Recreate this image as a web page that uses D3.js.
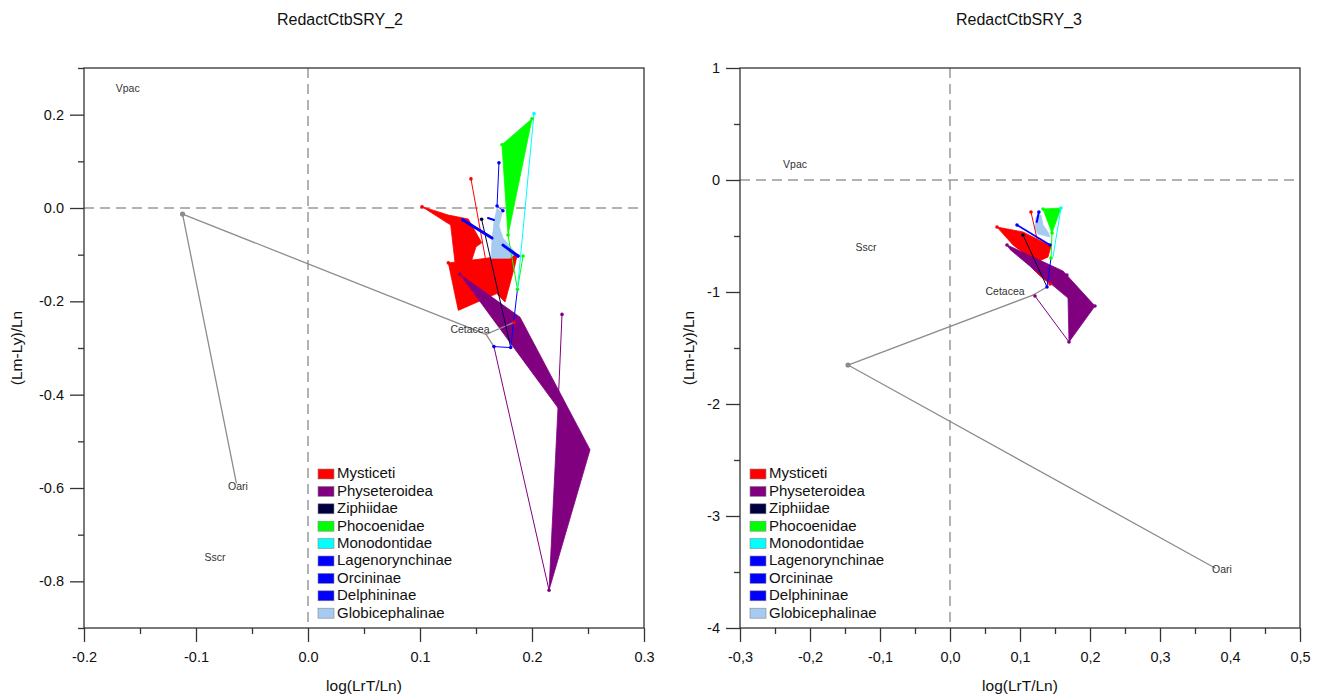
<!DOCTYPE html>
<html>
<head>
<meta charset="utf-8">
<script src="https://cdn.jsdelivr.net/npm/d3@7"></script>
<style>
  html, body { margin: 0; padding: 0; background: #fff; }
  svg { display: block; font-family: "Liberation Sans", Arial, sans-serif; }
</style>
</head>
<body>
<svg id="chart" width="1320" height="696"></svg>
<script>
// Clade names and fill colours shared by both panels
const groups = ["Mysticeti", "Physeteroidea", "Ziphiidae", "Phocoenidae", "Monodontidae",
  "Lagenorynchinae", "Orcininae", "Delphininae", "Globicephalinae"];
const groupColors = ["#ff0000", "#800080", "#000040", "#00ff00", "#00ffff",
  "#0000ff", "#0000ff", "#0000ff", "#a6caf0"];
const outgroupColor = "#8c8c8c";

// Axis tick values
const leftXTicks = [-0.2, -0.1, 0.0, 0.1, 0.2, 0.3];
const leftYTicks = [-0.8, -0.6, -0.4, -0.2, 0.0, 0.2];
const rightXTicks = [-0.3, -0.2, -0.1, 0.0, 0.1, 0.2, 0.3, 0.4, 0.5];
const rightYTicks = [-4, -3, -2, -1, 0, 1];

// ---- RedactCtbSRY_2 ----
const leftPolygons = [
  { g: "Mysticeti", pts: [[0.1018, 0.0028], [0.1253, -0.015], [0.1431, -0.0237], [0.1551, -0.0746], [0.150, -0.0832], [0.1462, -0.1118], [0.1313, -0.1176], [0.1274, -0.0366]] },
  { g: "Mysticeti", pts: [[0.1253, -0.1176], [0.152, -0.110], [0.1869, -0.0989], [0.1848, -0.1226], [0.1759, -0.2015], [0.1685, -0.1834], [0.1342, -0.2194]] },
  { g: "Physeteroidea", pts: [[0.1357, -0.142], [0.1893, -0.234], [0.2518, -0.518], [0.2152, -0.819], [0.2232, -0.428]] },
  { g: "Phocoenidae", pts: [[0.1732, 0.1355], [0.200, 0.1914], [0.1786, -0.058]] },
  { g: "Globicephalinae", pts: [[0.1688, 0.0], [0.1732, -0.0108], [0.1705, -0.0387], [0.1741, -0.0645], [0.1857, -0.0968], [0.1804, -0.1075], [0.1634, -0.1075], [0.1643, -0.0688], [0.1661, -0.0301]] }
];
const leftBranches = [
  { g: "out", w: 1.3, pts: [[-0.112, -0.013], [-0.064, -0.589]] },
  { g: "out", w: 1.3, pts: [[-0.112, -0.013], [0.159, -0.271]] },
  { g: "out", w: 1.3, pts: [[0.159, -0.271], [0.184, -0.245]] },
  { g: "out", w: 1.3, pts: [[0.159, -0.271], [0.166, -0.297]] },
  { g: "Lagenorynchinae", w: 1, pts: [[0.166, -0.297], [0.181, -0.299]] },
  { g: "Ziphiidae", w: 1, pts: [[0.181, -0.299], [0.155, -0.024]] },
  { g: "Lagenorynchinae", w: 1, pts: [[0.181, -0.299], [0.187, -0.174]] },
  { g: "Phocoenidae", w: 1, pts: [[0.187, -0.174], [0.1786, -0.058]] },
  { g: "Phocoenidae", w: 1, pts: [[0.187, -0.174], [0.192, -0.103]] },
  { g: "Monodontidae", w: 1, pts: [[0.187, -0.174], [0.2018, 0.2022]] },
  { g: "Physeteroidea", w: 1, pts: [[0.166, -0.297], [0.2152, -0.819]] },
  { g: "Physeteroidea", w: 1, pts: [[0.2268, -0.228], [0.2232, -0.428]] },
  { g: "Mysticeti", w: 1, pts: [[0.1455, 0.0624], [0.159, -0.116]] },
  { g: "Orcininae", w: 1, pts: [[0.1705, 0.0968], [0.1688, 0.0043], [0.174, -0.006]] },
  { g: "Delphininae", w: 3, pts: [[0.1384, -0.0258], [0.1643, -0.0645]] },
  { g: "Delphininae", w: 3, pts: [[0.1741, -0.0796], [0.1875, -0.103]] },
  { g: "Delphininae", w: 2, pts: [[0.1607, -0.0215], [0.1661, -0.0258]] }
];
const leftNodes = [
  [-0.112, -0.013, "out"], [0.184, -0.245, "Mysticeti"], [0.166, -0.297, "Lagenorynchinae"],
  [0.181, -0.299, "Lagenorynchinae"], [0.155, -0.024, "Ziphiidae"], [0.1455, 0.0624, "Mysticeti"],
  [0.1018, 0.0028, "Mysticeti"], [0.1253, -0.1176, "Mysticeti"], [0.1357, -0.142, "Physeteroidea"],
  [0.2152, -0.819, "Physeteroidea"], [0.2268, -0.228, "Physeteroidea"], [0.1732, 0.1355, "Phocoenidae"],
  [0.200, 0.1914, "Phocoenidae"], [0.1786, -0.058, "Phocoenidae"], [0.192, -0.103, "Phocoenidae"],
  [0.187, -0.174, "Phocoenidae"], [0.2018, 0.2022, "Monodontidae"], [0.1705, 0.0968, "Orcininae"],
  [0.1688, 0.0043, "Orcininae"], [0.174, -0.006, "Orcininae"], [0.1384, -0.0258, "Delphininae"],
  [0.1875, -0.103, "Delphininae"]
];
const leftTaxa = [
  ["Vpac", -0.161, 0.254], ["Sscr", -0.083, -0.751], ["Oari", -0.0625, -0.598], ["Cetacea", 0.1446, -0.262]
];

// ---- RedactCtbSRY_3 ----
const rightPolygons = [
  { g: "Mysticeti", pts: [[0.0671, -0.42], [0.1043, -0.464], [0.1443, -0.589], [0.140, -0.6875], [0.1243, -0.732], [0.110, -0.679], [0.090, -0.58]] },
  { g: "Mysticeti", pts: [[0.1157, -0.777], [0.1314, -0.741], [0.1429, -0.929], [0.1286, -0.857]] },
  { g: "Physeteroidea", pts: [[0.0814, -0.580], [0.1614, -0.8125], [0.2071, -1.125], [0.170, -1.446], [0.1686, -1.054], [0.0857, -0.62]] },
  { g: "Phocoenidae", pts: [[0.1329, -0.259], [0.1586, -0.25], [0.1457, -0.473]] },
  { g: "Globicephalinae", pts: [[0.1229, -0.330], [0.130, -0.3125], [0.1329, -0.402], [0.140, -0.464], [0.1429, -0.509], [0.1257, -0.482], [0.1214, -0.429]] }
];
const rightBranches = [
  { g: "out", w: 1.3, pts: [[-0.1457, -1.652], [0.3786, -3.464]] },
  { g: "out", w: 1.3, pts: [[-0.1457, -1.652], [0.1186, -1.027]] },
  { g: "out", w: 1.3, pts: [[0.1186, -1.027], [0.1386, -0.955]] },
  { g: "Physeteroidea", w: 1, pts: [[0.1214, -1.036], [0.170, -1.446]] },
  { g: "Ziphiidae", w: 1, pts: [[0.1043, -0.491], [0.1386, -0.955]] },
  { g: "Lagenorynchinae", w: 1, pts: [[0.1443, -0.696], [0.1386, -0.955]] },
  { g: "Phocoenidae", w: 1, pts: [[0.1457, -0.473], [0.1443, -0.696]] },
  { g: "Monodontidae", w: 1, pts: [[0.1586, -0.25], [0.1471, -0.6875]] },
  { g: "Mysticeti", w: 1, pts: [[0.1157, -0.286], [0.1257, -0.5625]] },
  { g: "Delphininae", w: 1.6, pts: [[0.0957, -0.402], [0.1429, -0.580]] },
  { g: "Orcininae", w: 2, pts: [[0.127, -0.286], [0.124, -0.375]] }
];
const rightNodes = [
  [-0.1457, -1.652, "out"], [0.1386, -0.955, "Lagenorynchinae"], [0.1214, -1.036, "Physeteroidea"],
  [0.170, -1.446, "Physeteroidea"], [0.2071, -1.125, "Physeteroidea"], [0.167, -0.848, "Physeteroidea"],
  [0.0814, -0.580, "Physeteroidea"], [0.1043, -0.491, "Ziphiidae"], [0.1443, -0.696, "Phocoenidae"],
  [0.1457, -0.473, "Phocoenidae"], [0.1329, -0.259, "Phocoenidae"], [0.1586, -0.25, "Monodontidae"],
  [0.1157, -0.286, "Mysticeti"], [0.0671, -0.42, "Mysticeti"], [0.1429, -0.929, "Mysticeti"],
  [0.0957, -0.402, "Delphininae"], [0.1429, -0.580, "Delphininae"], [0.127, -0.286, "Orcininae"]
];
const rightTaxa = [
  ["Vpac", -0.2214, 0.134], ["Sscr", -0.12, -0.607], ["Oari", 0.3886, -3.482], ["Cetacea", 0.0786, -1.0]
];

const colorOf = d3.scaleOrdinal().domain(groups.concat(["out"])).range(groupColors.concat([outgroupColor]));

const svg = d3.select("#chart");

function panel(cfg) {
  const g = svg.append("g");
  const x = d3.scaleLinear().domain(cfg.xDomain).range([cfg.left, cfg.right]);
  const y = d3.scaleLinear().domain(cfg.yDomain).range([cfg.bottom, cfg.top]);

  const clipId = "clip-" + cfg.id;
  svg.append("clipPath").attr("id", clipId).append("rect")
    .attr("x", cfg.left).attr("y", cfg.top)
    .attr("width", cfg.right - cfg.left).attr("height", cfg.bottom - cfg.top);

  const plot = g.append("g").attr("clip-path", `url(#${clipId})`);

  // dashed zero lines
  plot.append("line")
    .attr("x1", x(0)).attr("x2", x(0)).attr("y1", cfg.top).attr("y2", cfg.bottom)
    .attr("stroke", "#999").attr("stroke-width", 1.5).attr("stroke-dasharray", "10,6");
  plot.append("line")
    .attr("x1", cfg.left).attr("x2", cfg.right).attr("y1", y(0)).attr("y2", y(0))
    .attr("stroke", "#999").attr("stroke-width", 1.5).attr("stroke-dasharray", "10,6");

  const line = d3.line().x(d => x(d[0])).y(d => y(d[1]));

  plot.selectAll("path.hull").data(cfg.polygons).join("path")
    .attr("class", "hull")
    .attr("d", d => line(d.pts) + "Z")
    .attr("fill", d => colorOf(d.g))
    .attr("stroke", d => colorOf(d.g))
    .attr("stroke-width", 0.8)
    .attr("stroke-linejoin", "round");

  plot.selectAll("path.branch").data(cfg.branches).join("path")
    .attr("class", "branch")
    .attr("d", d => line(d.pts))
    .attr("fill", "none")
    .attr("stroke", d => colorOf(d.g))
    .attr("stroke-width", d => d.w)
    .attr("stroke-linecap", "round");

  plot.selectAll("circle.node").data(cfg.nodes).join("circle")
    .attr("class", "node")
    .attr("cx", d => x(d[0])).attr("cy", d => y(d[1]))
    .attr("r", d => d[2] === "out" ? 2.6 : 1.8)
    .attr("fill", d => colorOf(d[2]));

  plot.selectAll("text.taxon").data(cfg.taxa).join("text")
    .attr("class", "taxon")
    .attr("x", d => x(d[1])).attr("y", d => y(d[2]))
    .attr("text-anchor", "middle").attr("dominant-baseline", "middle")
    .attr("font-size", 10.5).attr("fill", "#333")
    .text(d => d[0]);

  // legend
  const lg = g.append("g").attr("transform", `translate(${cfg.legendX},${cfg.legendY})`);
  groups.forEach((name, i) => {
    const row = lg.append("g").attr("transform", `translate(0,${i * 17.4})`);
    row.append("rect").attr("x", 0).attr("y", -5).attr("width", 16).attr("height", 10)
      .attr("fill", groupColors[i]).attr("stroke", "#888").attr("stroke-width", 0.6);
    row.append("text").attr("x", 19).attr("y", 0.5).attr("dominant-baseline", "middle")
      .attr("font-size", 15).attr("fill", "#111").text(name);
  });

  // axes
  const stroke = "#333";
  const xMinor = d3.range(cfg.xDomain[0], cfg.xDomain[1] + 1e-9, cfg.xMinorStep)
    .filter(v => !cfg.xTicks.some(t => Math.abs(t - v) < 1e-9));
  const yMinor = d3.range(cfg.yDomain[0], cfg.yDomain[1] + 1e-9, cfg.yMinorStep)
    .filter(v => !cfg.yTicks.some(t => Math.abs(t - v) < 1e-9));

  const ax = g.append("g").attr("transform", `translate(0,${cfg.bottom})`)
    .call(d3.axisBottom(x).tickValues(cfg.xTicks).tickSize(14).tickPadding(10).tickFormat(cfg.xFmt));
  const axm = g.append("g").attr("transform", `translate(0,${cfg.bottom})`)
    .call(d3.axisBottom(x).tickValues(xMinor).tickSize(6).tickFormat(""));
  const ay = g.append("g").attr("transform", `translate(${cfg.left},0)`)
    .call(d3.axisLeft(y).tickValues(cfg.yTicks).tickSize(14).tickPadding(6).tickFormat(cfg.yFmt));
  const aym = g.append("g").attr("transform", `translate(${cfg.left},0)`)
    .call(d3.axisLeft(y).tickValues(yMinor).tickSize(6).tickFormat(""));
  [ax, axm, ay, aym].forEach(a => {
    a.select(".domain").remove();
    a.selectAll("line").attr("stroke", stroke).attr("stroke-width", 1.3);
    a.selectAll("text").attr("font-size", 14.5).attr("fill", "#111")
      .attr("font-family", "'Liberation Sans', Arial, sans-serif");
  });

  g.append("rect")
    .attr("x", cfg.left).attr("y", cfg.top)
    .attr("width", cfg.right - cfg.left).attr("height", cfg.bottom - cfg.top)
    .attr("fill", "none").attr("stroke", stroke).attr("stroke-width", 1.3);

  // titles
  g.append("text").attr("x", cfg.titleX).attr("y", 25).attr("text-anchor", "middle")
    .attr("font-size", 16).attr("fill", "#111").text(cfg.title);
  g.append("text").attr("x", (cfg.left + cfg.right) / 2).attr("y", 691).attr("text-anchor", "middle")
    .attr("font-size", 15.5).attr("fill", "#111").text("log(LrT/Ln)");
  g.append("text")
    .attr("transform", `translate(${cfg.yTitleX},${(cfg.top + cfg.bottom) / 2}) rotate(-90)`)
    .attr("text-anchor", "middle").attr("dominant-baseline", "middle")
    .attr("font-size", 15.5).attr("fill", "#111").text("(Lm-Ly)/Ln");
}

panel({
  id: "a", title: "RedactCtbSRY_2", titleX: 340, yTitleX: 18,
  left: 84, right: 644, top: 68, bottom: 628,
  xDomain: [-0.2, 0.3], yDomain: [-0.9, 0.3],
  xTicks: leftXTicks, yTicks: leftYTicks, xMinorStep: 0.05, yMinorStep: 0.1,
  xFmt: d => d.toFixed(1), yFmt: d => d.toFixed(1),
  polygons: leftPolygons, branches: leftBranches, nodes: leftNodes, taxa: leftTaxa,
  legendX: 318, legendY: 474
});

panel({
  id: "b", title: "RedactCtbSRY_3", titleX: 1019, yTitleX: 690,
  left: 740, right: 1300, top: 68, bottom: 628,
  xDomain: [-0.3, 0.5], yDomain: [-4, 1],
  xTicks: rightXTicks, yTicks: rightYTicks, xMinorStep: 0.05, yMinorStep: 0.5,
  xFmt: d => d.toFixed(1).replace(".", ","), yFmt: d => d3.format("d")(d).replace("−", "-"),
  polygons: rightPolygons, branches: rightBranches, nodes: rightNodes, taxa: rightTaxa,
  legendX: 750, legendY: 474
});
</script>
</body>
</html>
